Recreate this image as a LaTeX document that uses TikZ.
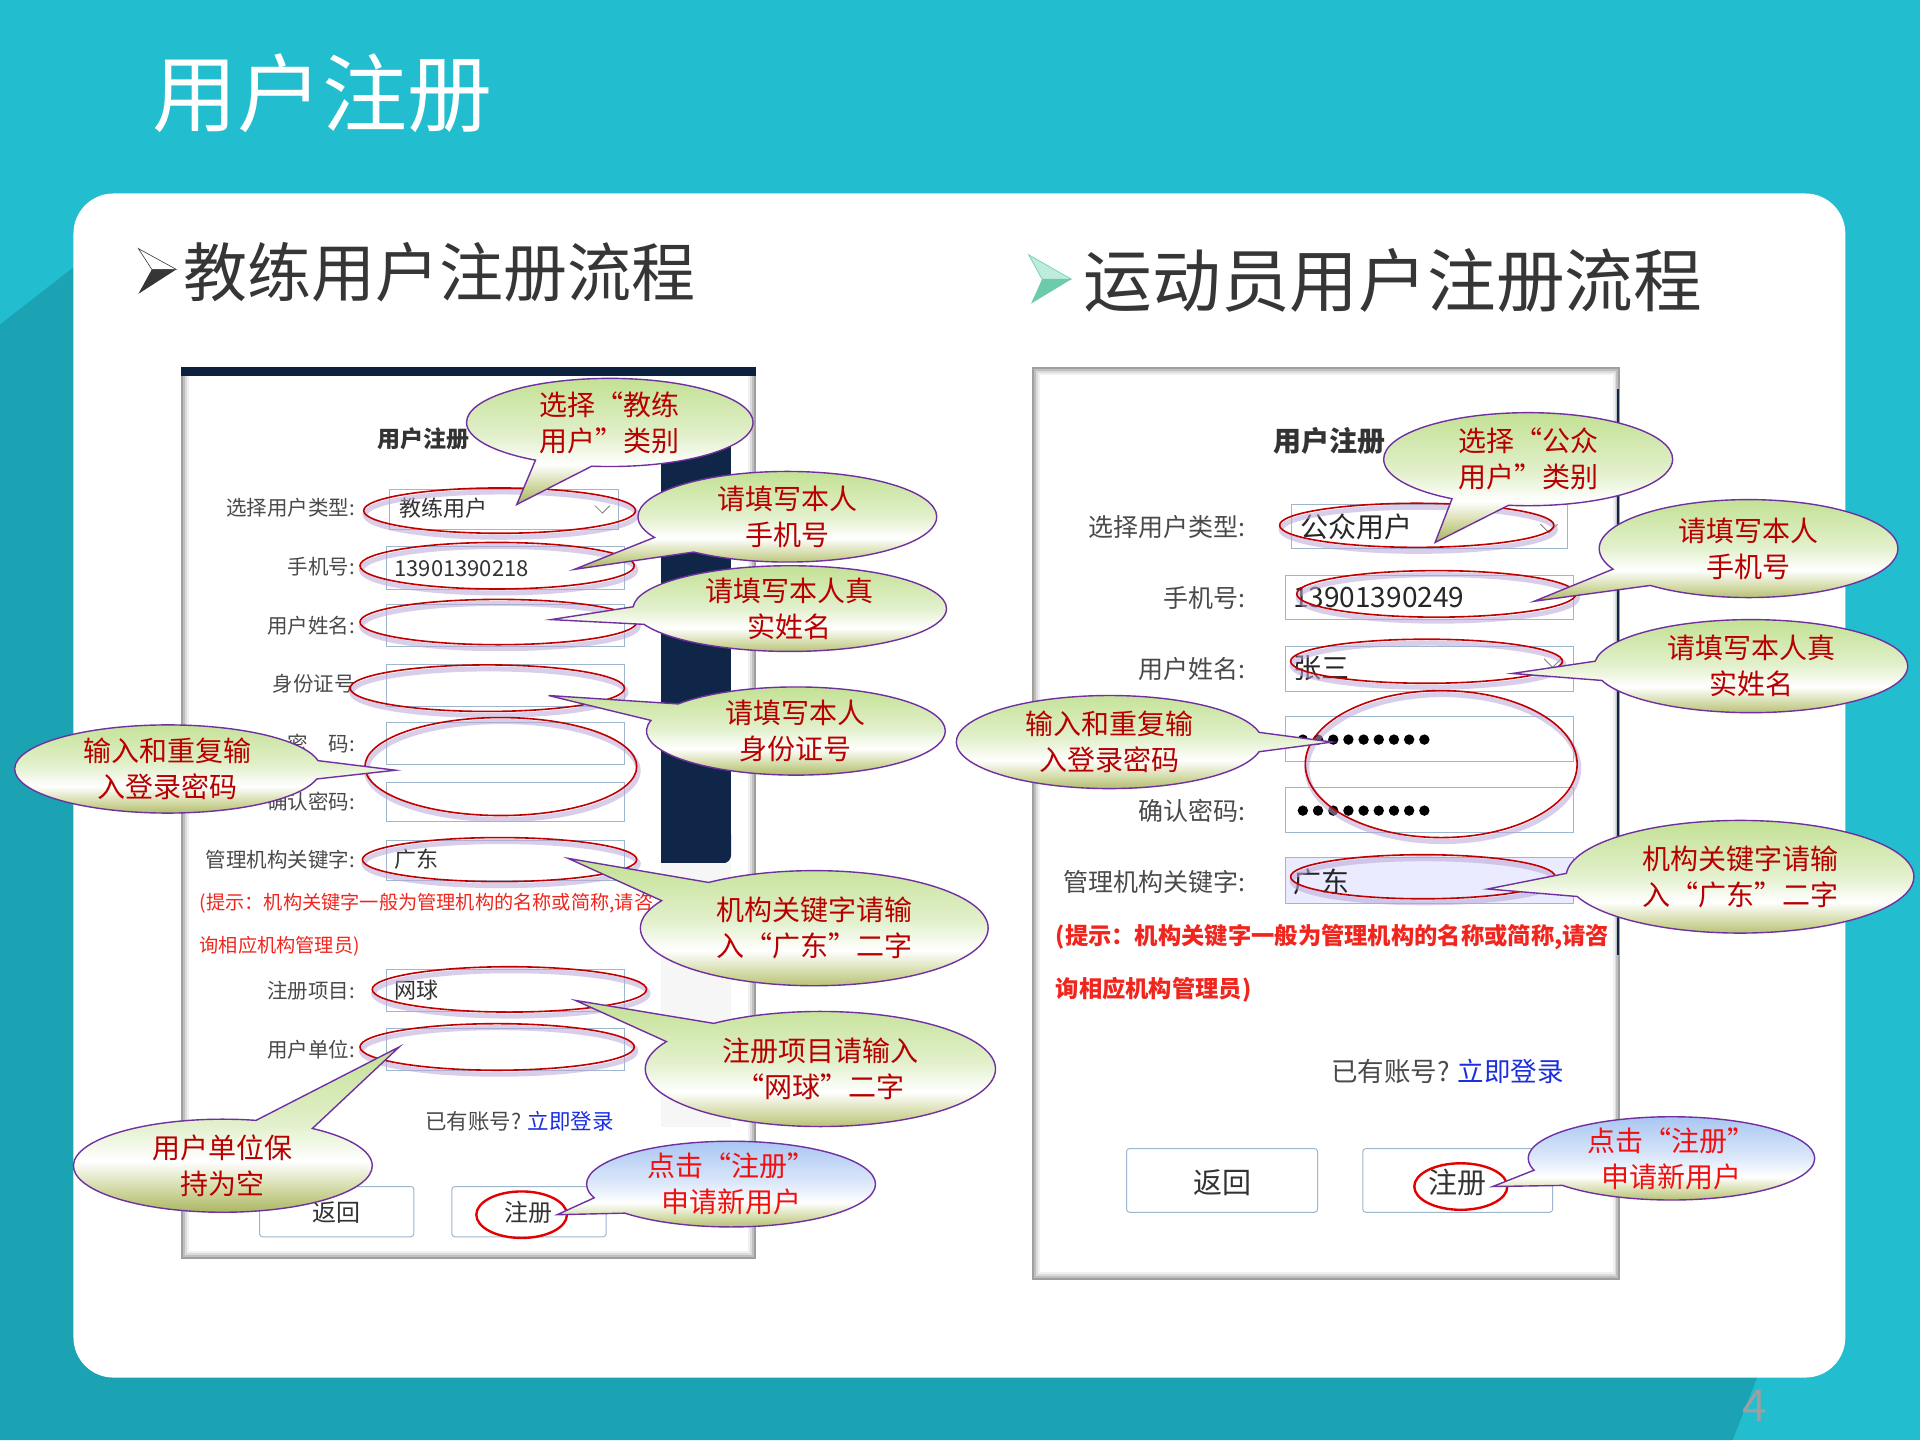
\documentclass[tikz,border=0pt]{standalone}
\usepackage{fontspec}
\usetikzlibrary{shapes.callouts,shapes.geometric}
\newfontfamily\cjk{Noto Sans CJK SC}
\definecolor{bgteal}{HTML}{22BDCE}
\definecolor{bgdark}{HTML}{1BA3B3}
\definecolor{navy}{HTML}{0F2648}
\definecolor{calltext}{HTML}{B80000}
\definecolor{callred}{HTML}{F01010}
\definecolor{callborder}{HTML}{7030A0}
\definecolor{cgreen}{HTML}{C3E194}
\definecolor{cgreenl}{HTML}{E2F0CC}
\definecolor{colive}{HTML}{A6B45A}
\definecolor{colivel}{HTML}{D4DBA8}
\definecolor{cblue}{HTML}{A9C6F2}
\definecolor{cbluel}{HTML}{DCE8FA}
\definecolor{boxline}{HTML}{9FB6CF}
\definecolor{labelgray}{HTML}{4A4A4A}
\definecolor{hintred}{HTML}{F0261E}
\definecolor{linkblue}{HTML}{1A2FE0}
\definecolor{ellred}{HTML}{C00000}
\definecolor{glow}{HTML}{B9A6D8}
\definecolor{headgray}{HTML}{363636}
\definecolor{arrteal}{HTML}{6CCBAA}
\definecolor{arrteallight}{HTML}{BDEBDC}
\pgfdeclareverticalshading{gcall}{100bp}{color(0bp)=(colive); color(25bp)=(colive); color(33bp)=(colivel); color(41bp)=(white); color(52bp)=(cgreenl); color(75bp)=(cgreen); color(100bp)=(cgreen)}
\pgfdeclareverticalshading{bcall}{100bp}{color(0bp)=(colive); color(25bp)=(colive); color(33bp)=(colivel); color(41bp)=(white); color(52bp)=(cbluel); color(75bp)=(cblue); color(100bp)=(cblue)}
\begin{document}
\begin{tikzpicture}[x=1.2245pt, y=-1.2245pt,
  esz/.style 2 args={minimum width=2*#1*1.2245pt, minimum height=2*#2*1.2245pt},
  rell/.style={ellipse, draw=ellred, line width=1.6pt, inner sep=0pt,
     preaction={draw=glow, line width=5pt, opacity=0.55, transform canvas={shift={(1.5pt,-4pt)}}}},
  bell/.style={ellipse, draw=red!90!black, line width=2.4pt, inner sep=0pt},
  callg/.style={ellipse callout, draw=callborder, line width=1.4pt, inner sep=0pt,
     callout pointer arc=24, shade, shading=gcall},
  callb/.style={ellipse callout, draw=callborder, line width=1.4pt, inner sep=0pt,
     callout pointer arc=24, shade, shading=bcall},
  ctxt/.style={align=center, text=calltext, inner sep=0pt, font=\cjk\fontsize{28pt}{36pt}\selectfont},
  ctxtr/.style={ctxt, text=callred},
  labl/.style={anchor=east, text=labelgray, inner sep=0pt, font=\cjk\fontsize{20.5pt}{22pt}\selectfont},
  labr/.style={anchor=east, text=labelgray, inner sep=0pt, font=\cjk\fontsize{25pt}{28pt}\selectfont},
  vall/.style={anchor=west, text=black!80, inner sep=0pt, font=\cjk\fontsize{22pt}{24pt}\selectfont},
  valr/.style={anchor=west, text=black!85, inner sep=0pt, font=\cjk\fontsize{28pt}{30pt}\selectfont},
  inbox/.style={draw=boxline, line width=0.9pt},
  btn/.style={draw=boxline, line width=1pt, rounded corners=3pt, fill=white},
]
\useasboundingbox (0,0) rectangle (1568,1176);
% background
\fill[bgteal] (0,0) rectangle (1568,1176);
\fill[bgdark] (0,265) -- (90,195) -- (1440,195) -- (1440,1110) -- (1435,1125) -- (1415,1176) -- (0,1176) -- cycle;
\fill[white, rounded corners=40pt] (60,158) rectangle (1507,1125);

% titles
\node[anchor=west, text=white, inner sep=0pt, font=\cjk\fontsize{85pt}{92pt}\selectfont] (title) at (124,76) {用户注册};
\node[anchor=west, text=headgray, inner sep=0pt, font=\cjk\fontsize{64pt}{70pt}\selectfont] (h1) at (150,222) {教练用户注册流程};
\node[anchor=west, text=headgray, inner sep=0pt, font=\cjk\fontsize{68.7pt}{76pt}\selectfont] (h2) at (885,229) {运动员用户注册流程};
% bullet arrows
\filldraw[draw=headgray, fill=white, line width=0.6pt] (113,203) -- (144,220) -- (124,220) -- cycle;
\fill[headgray] (124,220) -- (144,220) -- (113,240) -- cycle;
\filldraw[draw=arrteal, fill=arrteallight, line width=0.6pt] (840,208) -- (875,228) -- (851,228) -- cycle;
\fill[arrteal] (851,228) -- (875,228) -- (842,248) -- cycle;

% ================= left screenshot =================
\fill[gray!75] (148,300) rectangle (617,1028);
\fill[gray!50] (149.5,301.5) rectangle (615.5,1026.5);
\fill[gray!28] (151,303) rectangle (614,1025);
\fill[gray!12] (152.5,304.5) rectangle (612.5,1023.5);
\fill[white] (154,306) rectangle (611,1022);
\fill[navy!85!black] (148,300) rectangle (617,307);
\fill[navy] (540,340) rectangle (597,690);
\fill[navy, rounded corners=8pt] (540,675) rectangle (597,705);
\fill[navy] (540,675) rectangle (560,705);
\fill[gray!7] (540,705) rectangle (597,920);

\node[anchor=west, text=black!80, inner sep=0pt, font=\cjk\bfseries\fontsize{23pt}{25pt}\selectfont] (lhead) at (308,358) {用户注册};
\node[labl] (l1) at (290,415) {选择用户类型:};
\node[labl] (l2) at (290,463) {手机号:};
\node[labl] (l3) at (290,511) {用户姓名:};
\node[labl] (l4) at (290,558) {身份证号};
\node[labl] (l5) at (290,607) {密\hspace{1em}码:};
\node[labl] (l6) at (290,655) {确认密码:};
\node[labl] (l7) at (290,702) {管理机构关键字:};
\node[labl] (l8) at (290,809) {注册项目:};
\node[labl] (l9) at (290,857) {用户单位:};
\draw[inbox] (318,400) rectangle (505,432);
\draw[inbox] (316,446) rectangle (510,481);
\draw[inbox] (316,494) rectangle (510,528);
\draw[inbox] (316,543) rectangle (510,577);
\draw[inbox] (316,590) rectangle (510,624);
\draw[inbox] (316,639) rectangle (510,671);
\draw[inbox] (316,686) rectangle (510,719);
\draw[inbox] (316,792) rectangle (510,826);
\draw[inbox] (316,840) rectangle (510,874);
\draw[gray, line width=0.8pt] (486,413) -- (492,419) -- (498,413);
\node[vall] (v1) at (326,415) {教练用户};
\node[vall] (v2) at (322,464) {13901390218};
\node[vall] (v3) at (322,702) {广东};
\node[vall] (v4) at (322,809) {网球};
\node[anchor=west, text=hintred, inner sep=0pt, font=\cjk\fontsize{19.2pt}{21pt}\selectfont] (hint1) at (163,738) {(提示：机构关键字一般为管理机构的名称或简称,请咨};
\node[anchor=west, text=hintred, inner sep=0pt, font=\cjk\fontsize{19.2pt}{21pt}\selectfont] (hint2) at (163,773) {询相应机构管理员)};
\node[anchor=west, inner sep=0pt, font=\cjk\fontsize{21.5pt}{23pt}\selectfont] (acc) at (347,916) {\textcolor{labelgray}{已有账号?} \textcolor{linkblue}{立即登录}};
\draw[btn] (212,969) rectangle (338,1010);
\draw[btn] (369,969) rectangle (495,1010);
\node[inner sep=0pt, text=black!80, font=\cjk\fontsize{24pt}{26pt}\selectfont] (bk) at (275,990) {返回};
\node[inner sep=0pt, text=black!80, font=\cjk\fontsize{24pt}{26pt}\selectfont] (rg) at (432,990) {注册};

% red ellipses left
\node[rell, esz={111}{18.5}] (e1) at (408,417) {};
\node[rell, esz={112}{19}] (e2) at (406,462) {};
\node[rell, esz={113}{18.5}] (e3) at (407,508) {};
\node[rell, esz={112}{19}] (e4) at (398,562) {};
\node[rell, esz={111}{40}] (e5) at (409,626) {};
\node[rell, esz={112}{18}] (e6) at (408,702) {};
\node[rell, esz={112}{18.5}] (e7) at (416,808) {};
\node[rell, esz={112}{19}] (e8) at (406,855) {};
\node[bell, esz={37}{19}] (e9) at (426,992) {};

% ================= right screenshot =================
\fill[gray!75] (843,300) rectangle (1323,1045);
\fill[gray!50] (844.5,301.5) rectangle (1321.5,1043.5);
\fill[gray!28] (846,303) rectangle (1320,1042);
\fill[gray!12] (847.5,304.5) rectangle (1318.5,1040.5);
\fill[white] (849,306) rectangle (1317,1039);
\draw[navy, line width=2pt] (1321,318) -- (1321,780);

\node[anchor=west, text=black!80, inner sep=0pt, font=\cjk\bfseries\fontsize{28pt}{30pt}\selectfont] (rhead) at (1040,360) {用户注册};
\node[labr] (r1) at (1017,430) {选择用户类型:};
\node[labr] (r2) at (1017,488) {手机号:};
\node[labr] (r3) at (1017,546) {用户姓名:};
\node[labr] (r5) at (1017,662) {确认密码:};
\node[labr] (r6) at (1017,720) {管理机构关键字:};
\draw[inbox] (1055,412) rectangle (1280,448);
\draw[inbox] (1050,470) rectangle (1285,506);
\draw[inbox] (1050,528) rectangle (1285,565);
\draw[inbox] (1050,585) rectangle (1285,622);
\draw[inbox] (1050,643) rectangle (1285,680);
\draw[inbox, fill=blue!8] (1050,700) rectangle (1285,738);
\draw[gray, line width=0.9pt] (1258,428) -- (1265,435) -- (1272,428);
\draw[gray, line width=0.9pt] (1261,538) -- (1268,545) -- (1275,538);
\node[valr] (w1) at (1062,430) {公众用户};
\node[valr] (w2) at (1056,488) {13901390249};
\node[valr] (w3) at (1056,546) {张三};
\node[valr] (w6) at (1056,720) {广东};
\foreach \i in {0,...,8} {
  \fill[black] (1064+\i*12.4,604) circle (5.2pt);
  \fill[black] (1064+\i*12.4,662) circle (5.2pt);
}
\node[anchor=west, text=hintred, inner sep=0pt, font=\cjk\bfseries\fontsize{23.3pt}{25pt}\selectfont] (hint3) at (862,765) {(提示：机构关键字一般为管理机构的名称或简称,请咨};
\node[anchor=west, text=hintred, inner sep=0pt, font=\cjk\bfseries\fontsize{23.3pt}{25pt}\selectfont] (hint4) at (862,808) {询相应机构管理员)};
\node[anchor=west, inner sep=0pt, font=\cjk\fontsize{26.5pt}{28pt}\selectfont] (acc2) at (1087,875) {\textcolor{labelgray}{已有账号?} \textcolor{linkblue}{立即登录}};
\draw[btn] (920,938) rectangle (1076,990);
\draw[btn] (1113,938) rectangle (1268,990);
\node[inner sep=0pt, text=black!80, font=\cjk\fontsize{29pt}{31pt}\selectfont] (bk2) at (998,966) {返回};
\node[inner sep=0pt, text=black!80, font=\cjk\fontsize{29pt}{31pt}\selectfont] (rg2) at (1190,966) {注册};

% red ellipses right
\node[rell, esz={112}{18}] (f1) at (1157,429) {};
\node[rell, esz={114}{19}] (f2) at (1173,485) {};
\node[rell, esz={111}{18}] (f3) at (1165,540) {};
\node[rell, esz={111}{60}] (f4) at (1177,624) {};
\node[rell, esz={108}{18}] (f5) at (1162,716) {};
\node[bell, esz={38}{19}] (f6) at (1193,969) {};

% ================= callouts left =================
\node[callg, esz={117}{36}, callout absolute pointer={(422,412)}] (cA) at (498,345) {};
\node[ctxt] at (cA.center) {选择“教练\\用户”类别};
\node[callg, esz={122}{37}, callout absolute pointer={(469,465)}] (cB) at (643,422) {};
\node[ctxt] at (cB.center) {请填写本人\\手机号};
\node[callg, esz={128}{35}, callout absolute pointer={(450,506)}] (cC) at (645,497) {};
\node[ctxt] at (cC.center) {请填写本人真\\实姓名};
\node[callg, esz={122}{36}, callout absolute pointer={(448,568)}] (cD) at (650,597) {};
\node[ctxt] at (cD.center) {请填写本人\\身份证号};
\node[callg, esz={125}{36}, callout absolute pointer={(323,629)}] (cE) at (137,628) {};
\node[ctxt] at (cE.center) {输入和重复输\\入登录密码};
\node[callg, esz={142}{47}, callout absolute pointer={(464,701)}] (cF) at (665,758) {};
\node[ctxt] at (cF.center) {机构关键字请输\\入“广东”二字};
\node[callg, esz={143}{47}, callout absolute pointer={(470,817)}] (cG) at (670,873) {};
\node[ctxt] at (cG.center) {注册项目请输入\\“网球”二字};
\node[callg, esz={122}{38}, callout absolute pointer={(326,855)}] (cH) at (182,952) {};
\node[ctxt] at (cH.center) {用户单位保\\持为空};
\node[callb, esz={118}{35}, callout absolute pointer={(455,992)}] (cI) at (597,967) {};
\node[ctxtr] at (cI.center) {点击“注册”\\申请新用户};

% ================= callouts right =================
\node[callg, esz={118}{38}, callout absolute pointer={(1172,443)}] (cA2) at (1248,375) {};
\node[ctxt] at (cA2.center) {选择“公众\\用户”类别};
\node[callg, esz={122}{40}, callout absolute pointer={(1253,491)}] (cB2) at (1428,448) {};
\node[ctxt] at (cB2.center) {请填写本人\\手机号};
\node[callg, esz={128}{38}, callout absolute pointer={(1235,550)}] (cC2) at (1430,544) {};
\node[ctxt] at (cC2.center) {请填写本人真\\实姓名};
\node[callg, esz={125}{38}, callout absolute pointer={(1088,606)}] (cD2) at (906,606) {};
\node[ctxt] at (cD2.center) {输入和重复输\\入登录密码};
\node[callg, esz={142}{46}, callout absolute pointer={(1215,726)}] (cE2) at (1421,716) {};
\node[ctxt] at (cE2.center) {机构关键字请输\\入“广东”二字};
\node[callb, esz={117}{34}, callout absolute pointer={(1219,969)}] (cF2) at (1365,946) {};
\node[ctxtr] at (cF2.center) {点击“注册”\\申请新用户};

% page number
\node[text=gray!75, inner sep=0pt, font=\cjk\fontsize{44pt}{48pt}\selectfont] (pg) at (1433,1148) {4};
\end{tikzpicture}
\end{document}
